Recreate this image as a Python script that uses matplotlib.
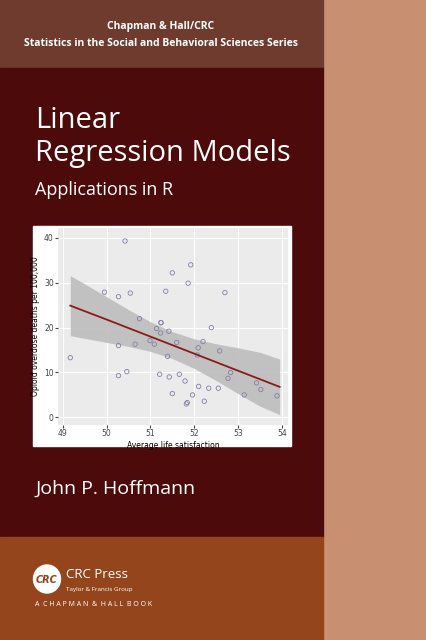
import matplotlib.pyplot as plt
import matplotlib.patches as mpatches
import numpy as np

# Данные диаграммы рассеяния
life_sat = [49.17, 50.42, 49.95, 50.27, 50.54, 50.27, 50.27, 50.46, 50.65, 50.75,
            50.99, 51.09, 51.14, 51.24, 51.24, 51.23, 51.35, 51.42, 51.39, 51.21,
            51.43, 51.5, 51.5, 51.6, 51.66, 51.79, 51.82, 51.84, 51.86, 51.92,
            51.96, 52.09, 52.07, 52.1, 52.2, 52.23, 52.33, 52.39, 52.55, 52.58,
            52.7, 52.77, 52.83, 53.14, 53.42, 53.52, 53.89]
deaths = [13.3, 39.3, 27.9, 26.9, 27.7, 16.0, 9.3, 10.2, 16.3, 22.0,
          17.1, 16.3, 19.8, 21.1, 21.1, 18.8, 28.1, 19.2, 13.6, 9.6,
          9.0, 32.2, 5.3, 16.7, 9.6, 8.1, 3.0, 3.3, 29.9, 34.0,
          5.0, 15.5, 13.9, 6.9, 16.9, 3.6, 6.5, 20.0, 6.5, 14.8,
          27.8, 8.7, 10.0, 5.0, 7.7, 6.2, 4.8]
fit_x = [49.17, 50.0, 50.5, 51.0, 51.5, 52.0, 52.5, 53.0, 53.5, 53.95]
fit_y = [24.9, 21.8, 19.9, 18.0, 16.1, 14.2, 12.3, 10.4, 8.5, 6.8]
band_half = [6.7, 5.1, 4.1, 3.3, 3.0, 3.3, 4.1, 5.1, 6.0, 6.2]

fig = plt.figure(figsize=(4.26, 6.4), dpi=100)
bg = fig.add_axes([0, 0, 1, 1])
bg.set_xlim(0, 426)
bg.set_ylim(640, 0)
bg.axis('off')

# Фон обложки
bg.add_patch(mpatches.Rectangle((0, 0), 426, 640, color='#c89070'))
bg.add_patch(mpatches.Rectangle((0, 0), 323, 68, color='#6e3b2e'))
bg.add_patch(mpatches.Rectangle((0, 68), 323, 469, color='#4d0a0b'))
bg.add_patch(mpatches.Rectangle((0, 537), 323, 103, color='#94451c'))
bg.add_patch(mpatches.Rectangle((33, 226), 258, 220, color='white'))

# Тексты
bg.text(161, 27, 'Chapman & Hall/CRC', color='white', fontsize=7.5, fontweight='bold',
        ha='center', va='center', family='Open Sans')
bg.text(161, 44, 'Statistics in the Social and Behavioral Sciences Series', color='white',
        fontsize=7.5, fontweight='bold', ha='center', va='center', family='Open Sans')
bg.text(35, 120, 'Linear', color='white', fontsize=21, va='center', family='Open Sans')
bg.text(35, 154, 'Regression Models', color='white', fontsize=21, va='center', family='Open Sans')
bg.text(35, 190, 'Applications in R', color='white', fontsize=13, va='center', family='Open Sans')
bg.text(35, 489, 'John P. Hoffmann', color='white', fontsize=14, va='center', family='Open Sans')

# Логотип CRC
bg.add_patch(mpatches.Ellipse((47, 579), 27, 28, color='white'))
bg.text(47, 580, 'CRC', color='#94451c', fontsize=7, fontweight='bold', style='italic',
        ha='center', va='center')
bg.text(66, 574, 'CRC Press', color='white', fontsize=9.5, va='center', family='Open Sans')
bg.text(66, 589, 'Taylor & Francis Group', color='white', fontsize=4.5, va='center',
        family='Open Sans')
bg.text(35, 605, 'A  C H A P M A N  &  H A L L  B O O K', color='white', fontsize=5,
        va='center', family='Open Sans')

# Диаграмма
ax = fig.add_axes([58 / 426, 1 - 425 / 640, 230 / 426, 197 / 640])
ax.set_facecolor('#ebebeb')
ax.grid(True, color='white', linewidth=0.8)
ax.set_axisbelow(True)
for s in ax.spines.values():
    s.set_visible(False)
fx = np.array(fit_x)
fy = np.array(fit_y)
hw = np.array(band_half)
ax.fill_between(fx, fy - hw, fy + hw, color='#bdbdbd', alpha=0.9, linewidth=0)
ax.plot(fx, fy, color='#8b1a1a', linewidth=1.3)
ax.scatter(life_sat, deaths, s=10, facecolors='none', edgecolors='#8080a8', linewidths=0.6)
ax.set_xlim(48.89, 54.14)
ax.set_ylim(-1.7, 42.2)
ax.set_xticks([49, 50, 51, 52, 53, 54])
ax.set_yticks([0, 10, 20, 30, 40])
ax.tick_params(labelsize=5.5, length=2, colors='#444444', pad=1)
ax.set_xlabel('Average life satisfaction', fontsize=5.5, labelpad=2)
ax.set_ylabel('Opioid overdose deaths per 100,000', fontsize=5.5, labelpad=3)

fig.savefig('out.png', dpi=100)
